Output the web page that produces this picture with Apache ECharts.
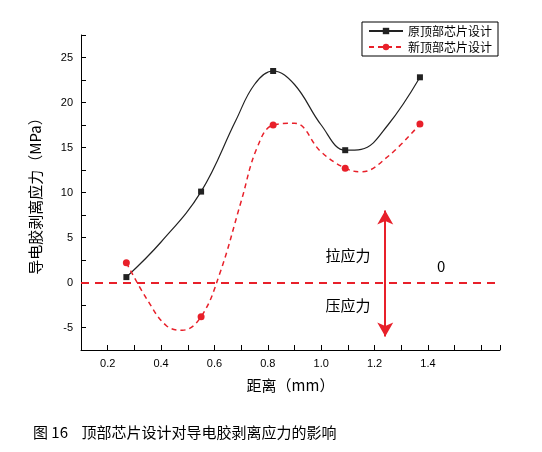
<!DOCTYPE html>
<html><head><meta charset="utf-8">
<script src="https://cdn.jsdelivr.net/npm/echarts@6/dist/echarts.min.js"></script>
<style>html,body{margin:0;background:#fff}#c{width:542px;height:452px}</style>
</head><body><div id="c"></div>
<script>
// marker points
const xs = [0.27, 0.55, 0.82, 1.09, 1.37];
const oldVals = [0.6, 10.1, 23.5, 14.7, 22.8];
const newVals = [2.2, -3.8, 17.5, 12.7, 17.6];
// curve points
const oldCurve = [[0.27,0.6],[0.4,4.5],[0.55,10.1],[0.68,18],[0.75,22],[0.82,23.5],[0.9,22],[1.0,17.5],[1.09,14.7],[1.15,14.8],[1.25,17.5],[1.37,22.8]];
const newCurve = [[0.27,2.2],[0.35,-2],[0.42,-4.8],[0.48,-5.3],[0.55,-3.8],[0.62,1],[0.7,9],[0.76,15],[0.82,17.5],[0.9,17.7],[1.0,14.5],[1.09,12.7],[1.15,12.3],[1.25,14],[1.37,17.6]];
const names = ['原顶部芯片设计', '新顶部芯片设计'];

function toData(curve) {
  return curve.map(p => xs.includes(p[0]) ? {value: p} : {value: p, symbol: 'none'});
}

const font = 'Noto Sans CJK SC';
const chart = echarts.init(document.getElementById('c'));
chart.setOption({
  animation: false,
  textStyle: {fontFamily: font},
  title: {
    text: '图 16    顶部芯片设计对导电胶剥离应力的影响',
    left: 28, top: 420,
    textStyle: {fontSize: 15, fontWeight: 'normal', color: '#000', fontFamily: font}
  },
  legend: {
    data: names,
    orient: 'vertical',
    right: 44, top: 22,
    itemWidth: 34, itemHeight: 8, itemGap: 4,
    backgroundColor: '#fff', borderColor: '#000', borderWidth: 1, padding: [3, 6],
    textStyle: {fontSize: 12, color: '#000'}
  },
  grid: {left: 81, right: 42, top: 35, bottom: 102},
  xAxis: {
    type: 'value', min: 0.1, max: 1.67, interval: 0.1,
    name: '距离（mm）', nameLocation: 'middle', nameGap: 28,
    nameTextStyle: {fontSize: 15, color: '#000'},
    axisLine: {onZero: false, lineStyle: {color: '#000'}},
    axisTick: {inside: true, lineStyle: {color: '#000'}},
    axisLabel: {fontSize: 11, color: '#000', fontFamily: 'Liberation Sans',
      formatter: v => (Math.round(v * 10) % 2 === 0 && v < 1.5) ? v.toFixed(1) : ''},
    splitLine: {show: false}
  },
  yAxis: {
    type: 'value', min: -7.5, max: 27.5, interval: 2.5,
    name: '导电胶剥离应力（MPa）', nameLocation: 'middle', nameGap: 38,
    nameTextStyle: {fontSize: 15, color: '#000'},
    axisLine: {show: true, lineStyle: {color: '#000'}},
    axisTick: {inside: true, lineStyle: {color: '#000'}},
    axisLabel: {fontSize: 11, color: '#000', fontFamily: 'Liberation Sans',
      formatter: v => (v % 5 === 0 && v <= 25) ? String(v) : ''},
    splitLine: {show: false}
  },
  series: [
    {
      name: names[0], type: 'line', smooth: 0.4,
      data: toData(oldCurve),
      symbol: 'rect', symbolSize: 6,
      itemStyle: {color: '#222'},
      lineStyle: {color: '#222', width: 1.2}
    },
    {
      name: names[1], type: 'line', smooth: 0.4,
      data: toData(newCurve),
      symbol: 'circle', symbolSize: 7,
      itemStyle: {color: '#e8202a'},
      lineStyle: {color: '#e8202a', width: 1.5, type: [5, 4]},
      markLine: {
        silent: true, symbol: 'none',
        lineStyle: {color: '#e8202a', type: [8, 6], width: 2},
        label: {show: false},
        data: [[{coord: [0.1, 0]}, {coord: [1.67, 0]}]]
      }
    },
    {
      type: 'line', data: [],
      markLine: {
        silent: true, symbol: ['arrow', 'arrow'], symbolSize: [12, 14],
        lineStyle: {color: '#e8202a', type: 'solid', width: 2},
        label: {show: false},
        data: [[{coord: [1.24, 8]}, {coord: [1.24, -6]}]]
      },
      markPoint: {
        symbol: 'rect', symbolSize: 0,
        label: {show: true, color: '#000', fontSize: 15},
        data: [
          {coord: [1.1, 3], value: '拉应力', label: {formatter: '拉应力'}},
          {coord: [1.1, -2.5], value: '压应力', label: {formatter: '压应力'}},
          {coord: [1.45, 1.8], value: '0', label: {formatter: '0'}}
        ]
      }
    }
  ]
});
</script></body></html>
